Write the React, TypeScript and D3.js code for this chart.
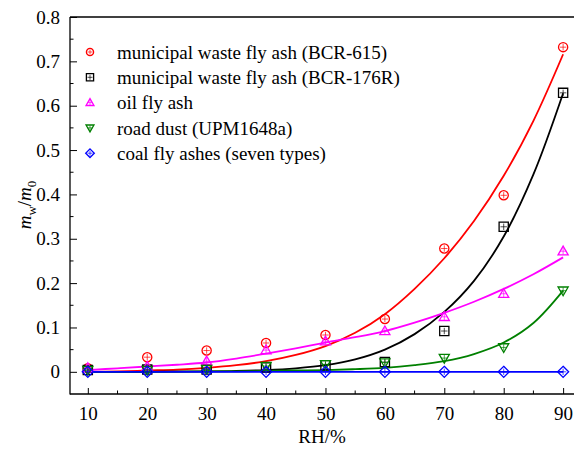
import { useRef, useEffect } from "react";
import * as d3 from "d3";

// measured points
const rh = [10, 20, 30, 40, 50, 60, 70, 80, 90];
const bcr615 = [0.008, 0.033, 0.048, 0.065, 0.083, 0.119, 0.278, 0.398, 0.732];
const bcr176 = [0.004, 0.005, 0.005, 0.01, 0.015, 0.022, 0.092, 0.327, 0.629];
const oilAsh = [0.009, 0.012, 0.024, 0.049, 0.069, 0.092, 0.124, 0.176, 0.272];
const roadDust = [0.004, 0.004, 0.006, 0.013, 0.017, 0.021, 0.031, 0.055, 0.183];
const coalAsh = [0, 0, 0, 0, 0, 0, 0, 0, 0];

// fitted curves, every 5 %RH
const fitRh = [10, 15, 20, 25, 30, 35, 40, 45, 50, 55, 60, 65, 70, 75, 80, 85, 90];
const fit615 = [0, 0.001, 0.003, 0.005, 0.009, 0.015, 0.024, 0.038, 0.058, 0.088, 0.13, 0.187, 0.256, 0.34, 0.442, 0.566, 0.716];
const fit176 = [0, 0, 0, 0.001, 0.001, 0.002, 0.004, 0.008, 0.015, 0.028, 0.05, 0.085, 0.135, 0.205, 0.305, 0.445, 0.628];
const fitOil = [0.004, 0.008, 0.012, 0.016, 0.021, 0.03, 0.041, 0.053, 0.066, 0.078, 0.092, 0.111, 0.133, 0.158, 0.187, 0.22, 0.258];
const fitRoad = [0, 0, 0, 0, 0.001, 0.001, 0.002, 0.003, 0.004, 0.006, 0.009, 0.015, 0.024, 0.04, 0.066, 0.11, 0.183];
const fitCoal = [0, 0, 0, 0, 0, 0, 0, 0, 0, 0, 0, 0, 0, 0, 0, 0, 0];

const xTicks = [10, 20, 30, 40, 50, 60, 70, 80, 90];
const yTicks = [0, 0.1, 0.2, 0.3, 0.4, 0.5, 0.6, 0.7, 0.8];

const series = [
  { name: "municipal waste fly ash (BCR-615)", pts: bcr615, fit: fit615, color: "#ff0000", shape: "circle" },
  { name: "municipal waste fly ash (BCR-176R)", pts: bcr176, fit: fit176, color: "#000000", shape: "square" },
  { name: "oil fly ash", pts: oilAsh, fit: fitOil, color: "#ff00ff", shape: "up" },
  { name: "road dust (UPM1648a)", pts: roadDust, fit: fitRoad, color: "#008000", shape: "down" },
  { name: "coal fly ashes (seven types)", pts: coalAsh, fit: fitCoal, color: "#0000ff", shape: "diamond" },
];

const W = 574;
const H = 455;
const font = "Liberation Serif, DejaVu Serif, Times New Roman, serif";

function markerPath(shape: string, s: number) {
  // s = half size
  if (shape === "circle") return d3.symbol(d3.symbolCircle, Math.PI * s * s)() as string;
  if (shape === "square") return `M${-s},${-s}H${s}V${s}H${-s}Z`;
  if (shape === "up") return `M0,${-s * 1.1}L${s * 1.1},${s * 0.8}H${-s * 1.1}Z`;
  if (shape === "down") return `M0,${s * 1.1}L${s * 1.1},${-s * 0.8}H${-s * 1.1}Z`;
  return `M0,${-s * 1.2}L${s * 1.2},0L0,${s * 1.2}L${-s * 1.2},0Z`;
}

const App = () => {
  const svgRef = useRef<SVGSVGElement>(null);

  useEffect(() => {
    const svg: any = d3.select(svgRef.current);
    svg.selectAll("*").remove();

    const x = d3.scaleLinear().domain([7, 92]).range([70, 575]);
    const y = d3.scaleLinear().domain([-0.05, 0.8]).range([394, 17]);

    // frame
    svg.append("line").attr("x1", 70).attr("x2", W).attr("y1", 17).attr("y2", 17)
      .attr("stroke", "#000").attr("stroke-width", 1.3);

    const xAxis = svg.append("g").attr("transform", "translate(0,394)");
    xAxis.call(d3.axisBottom(x).tickValues(xTicks).tickSizeInner(-6).tickSizeOuter(0).tickPadding(13));
    xAxis.append("g").selectAll("line")
      .data(d3.range(15, 92, 10))
      .join("line")
      .attr("x1", (d: number) => x(d)).attr("x2", (d: number) => x(d))
      .attr("y1", 0).attr("y2", -3.5).attr("stroke", "#000");

    const yAxis = svg.append("g").attr("transform", "translate(70,0)");
    yAxis.call(d3.axisLeft(y).tickValues(yTicks).tickSizeInner(-7).tickSizeOuter(0).tickPadding(10)
      .tickFormat((d: any) => (d === 0 ? "0" : d3.format(".1f")(d))));
    yAxis.append("g").selectAll("line")
      .data(d3.range(0.05, 0.8, 0.1))
      .join("line")
      .attr("x1", 0).attr("x2", 3.5)
      .attr("y1", (d: number) => y(d)).attr("y2", (d: number) => y(d)).attr("stroke", "#000");

    [xAxis, yAxis].forEach((a: any) => {
      a.attr("font-family", null).attr("font-size", null);
      a.select(".domain").attr("stroke", "#000").attr("stroke-width", 1.3);
      a.selectAll("text").style("font-family", font).style("font-size", "19px").attr("fill", "#000");
    });
    yAxis.select(".domain").attr("d", `M0,${y(-0.05) + 0.6}V17`);
    xAxis.select(".domain").attr("d", `M70,0H${W}`);

    // axis titles
    svg.append("text").attr("x", 322).attr("y", 443).attr("text-anchor", "middle")
      .style("font-family", font).style("font-size", "19px").text("RH/%");

    const yl = svg.append("text").attr("transform", "translate(31,205) rotate(-90)")
      .attr("text-anchor", "middle").style("font-family", font).style("font-size", "19px");
    yl.append("tspan").style("font-style", "italic").text("m");
    yl.append("tspan").style("font-size", "13px").attr("dy", 5).text("w");
    yl.append("tspan").attr("dy", -5).text("/");
    yl.append("tspan").style("font-style", "italic").text("m");
    yl.append("tspan").style("font-size", "13px").attr("dy", 5).text("0");

    // fitted curves
    const line = d3.line<number>()
      .x((_, i) => x(fitRh[i]))
      .y((d) => y(d))
      .curve(d3.curveCatmullRom);

    series.forEach((s) => {
      svg.append("path").attr("d", line(s.fit)).attr("fill", "none")
        .attr("stroke", s.color).attr("stroke-width", 1.8);
    });

    // markers
    const drawMarker = (g: any, s: any, cx: number, cy: number, r: number) => {
      const m = g.append("g").attr("transform", `translate(${cx},${cy})`);
      m.append("path").attr("d", markerPath(s.shape, r)).attr("fill", "none")
        .attr("stroke", s.color).attr("stroke-width", 1.3);
      const c = r * 0.7;
      m.append("path").attr("d", `M${-c},0H${c}M0,${-c}V${c}`)
        .attr("stroke", s.color).attr("stroke-width", 0.7);
    };

    series.forEach((s) => {
      const g = svg.append("g");
      s.pts.forEach((v, i) => drawMarker(g, s, x(rh[i]), y(v), 4.6));
    });

    // legend
    const lg = svg.append("g");
    series.forEach((s, i) => {
      const ly = 52 + i * 25.3;
      drawMarker(lg, s, 90, ly, 3.6);
      lg.append("text").attr("x", 117).attr("y", ly).attr("dy", "0.35em")
        .style("font-family", font).style("font-size", "19px").text(s.name);
    });
  }, []);

  return (
    <svg
      ref={svgRef}
      width={W}
      height={H}
      style={{ position: "absolute", left: 0, top: 0, background: "#fff" }}
    />
  );
};

export default App;
